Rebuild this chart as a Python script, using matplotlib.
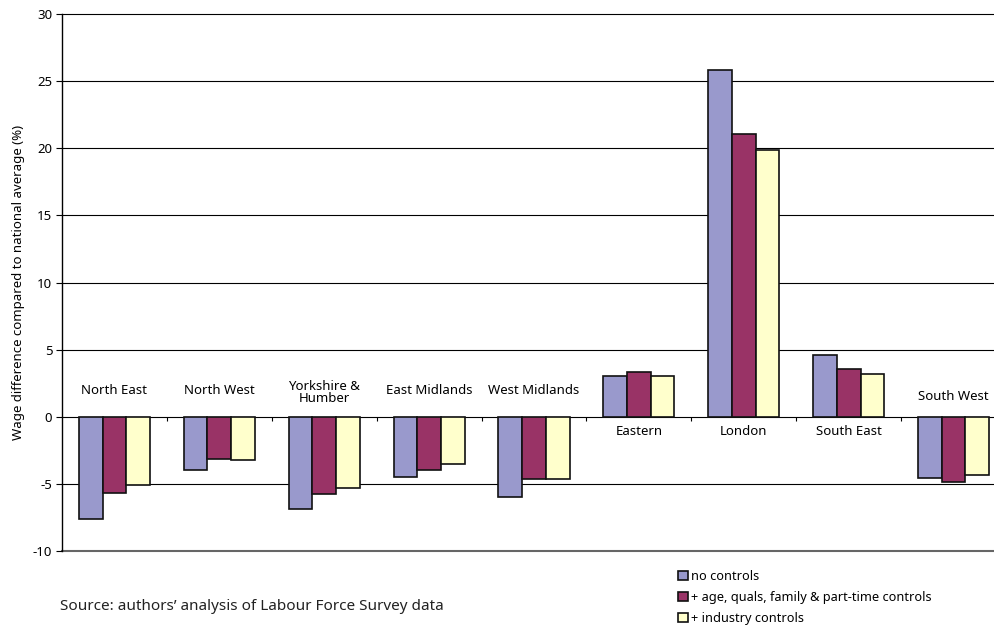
import matplotlib
matplotlib.use("Agg")
import matplotlib.pyplot as plt
import numpy as np

plt.rcParams['font.family'] = ['Noto Sans', 'DejaVu Sans']

regions = ["North East", "North West", "Yorkshire &\nHumber", "East Midlands",
           "West Midlands", "Eastern", "London", "South East", "South West"]
no_controls = [-7.6, -3.95, -6.85, -4.5, -6.0, 3.05, 25.8, 4.6, -4.55]
age_quals_controls = [-5.65, -3.15, -5.75, -3.95, -4.6, 3.3, 21.05, 3.55, -4.85]
industry_controls = [-5.05, -3.2, -5.3, -3.5, -4.6, 3.0, 19.85, 3.15, -4.35]
series_names = ["no controls", "+ age, quals, family & part-time controls",
                "+ industry controls"]
colors = ["#9999CC", "#993366", "#FFFFCC"]
yticks = [-10, -5, 0, 5, 10, 15, 20, 25, 30]

W, H = 995, 628
fig = plt.figure(figsize=(W / 100, H / 100), dpi=100)
# the plot area runs slightly past the right edge of the page
ax_left, ax_right = 62, 1006
ax = fig.add_axes([ax_left / W, 1 - 551 / H, (ax_right - ax_left) / W, (551 - 14) / H])

n = len(regions)
x = np.arange(n)
bw = 0.226
series = [no_controls, age_quals_controls, industry_controls]
handles = []
for i, (vals, c, name) in enumerate(zip(series, colors, series_names)):
    b = ax.bar(x + (i - 1) * bw, vals, width=bw, color=c, edgecolor="#111111",
               linewidth=1.2, label=name, zorder=3)
    handles.append(b)

ax.set_xlim(-0.5, n - 0.5)
ax.set_ylim(-10, 30)
ax.set_yticks(yticks)
ax.set_yticklabels([str(t) for t in yticks], fontsize=9.5)
ax.tick_params(axis='y', length=4, width=0.8, pad=3, direction='out')
ax.set_xticks([])

for t in yticks:
    if t == -10:
        ax.axhline(t, color="#666666", linewidth=1.5, zorder=1, clip_on=False)
    else:
        ax.axhline(t, color="#000000", linewidth=0.8, zorder=1, clip_on=False)

for s in ["top", "right", "bottom"]:
    ax.spines[s].set_visible(False)
ax.spines["left"].set_linewidth(1.0)

# category separators on the zero line
ax.vlines(np.arange(n - 1) + 0.5, -0.35, 0, color="#000000", linewidth=0.8, zorder=2)

# category labels: above zero for negative groups, below for positive ones
for xi, name, v in zip(x, regions, no_controls):
    if v < 0:
        yl = 1.45 if "\n" not in name else 0.85
        if name == "South West":
            yl = 1.0
        ax.text(xi, yl, name, ha="center", va="bottom", fontsize=9.5,
                linespacing=0.95, zorder=4)
    else:
        ax.text(xi, -0.65, name, ha="center", va="top", fontsize=9.5, zorder=4)

ax.set_ylabel("Wage difference compared to national average (%)", fontsize=9.5,
              labelpad=6)

fig.text(60 / W, 1 - 607 / H, "Source: authors\u2019 analysis of Labour Force Survey data",
         ha="left", va="center", fontsize=11, color="#222222")

fig.legend(handles=handles, labels=series_names, loc="upper left",
           bbox_to_anchor=(678 / W, 1 - 570 / H), frameon=False, fontsize=9.2,
           handlelength=0.75, handleheight=0.75, handletextpad=0.3,
           labelspacing=0.62, borderaxespad=0, borderpad=0)

fig.savefig("out.png", dpi=100)
